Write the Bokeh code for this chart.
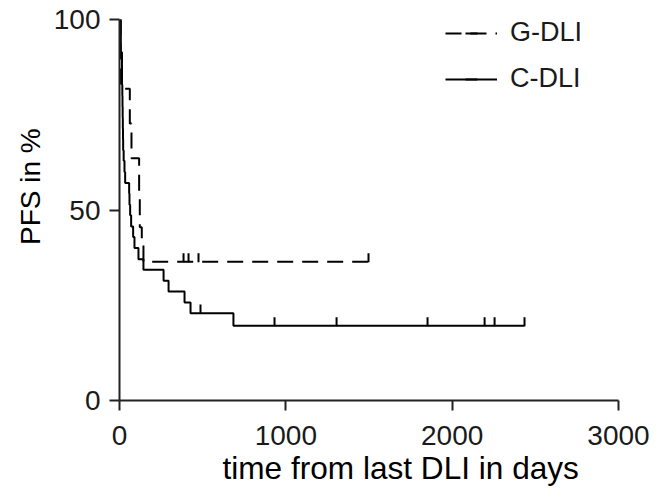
import math
from bokeh.plotting import figure
from bokeh.models import Range1d, FixedTicker, Legend, LegendItem, ColumnDataSource, Title
from bokeh.embed import file_html
from bokeh.resources import INLINE

# ---- data (Kaplan-Meier step curves) ----
# C-DLI (solid)
c_time = [0, 8, 15, 17, 18, 19, 20, 21, 22, 25, 30, 34, 58, 60, 64, 70, 82, 90, 114, 144,
          265, 295, 391, 427, 685, 2435]
c_surv = [100, 91.4, 82.9, 80.0, 77.1, 74.3, 71.4, 68.6, 65.7, 62.9, 60.0, 57.1, 54.3, 51.4,
          48.6, 45.7, 42.9, 40.0, 37.1, 34.3, 31.4, 28.6, 25.7, 22.9, 19.6, 19.6]
c_cens_time = [487, 932, 1305, 1852, 2195, 2255, 2435]
c_cens_surv = [22.9, 19.6, 19.6, 19.6, 19.6, 19.6, 19.6]

# G-DLI (dashed)
g_time = [0, 6, 62, 72, 118, 122, 134, 144, 1497]
g_surv = [100, 81.8, 72.7, 63.6, 54.5, 45.5, 40.9, 36.4, 36.4]
g_cens_time = [385, 415, 475, 1497]
g_cens_surv = [36.4, 36.4, 36.4, 36.4]

x_ticks = [0, 1000, 2000, 3000]
y_ticks = [0, 50, 100]
series_names = ["G-DLI", "C-DLI"]
x_title = "time from last DLI in days"
y_title = "PFS in %"

# ---- style ----
FONT = "Liberation Sans"
TXT = "#1a1a1a"
LW = 2
DASH = "16 9"
TICK_HALF = 1.1   # censor tick drawn upward from the curve (in % units)
Y_TITLE_PAD = "\u00a0" * 6   # shifts the vertical title upward as in the reference

p = figure(width=662, height=495, output_backend="svg", toolbar_location=None,
           x_range=Range1d(0, 3000), y_range=Range1d(0, 100),
           min_border_left=119, min_border_right=44, min_border_top=19,
           min_border_bottom=95)
p.outline_line_color = None
p.grid.visible = False
p.background_fill_color = "white"
p.border_fill_color = "white"

g_line = p.step(g_time, g_surv, mode="after", line_color="black", line_width=LW,
                line_dash=DASH)
c_line = p.step(c_time, c_surv, mode="after", line_color="black", line_width=LW)

g_src = ColumnDataSource(dict(x=g_cens_time, y=[v + TICK_HALF for v in g_cens_surv]))
c_src = ColumnDataSource(dict(x=c_cens_time, y=[v + TICK_HALF for v in c_cens_surv]))
g_tick = p.scatter("x", "y", source=g_src, marker="dash", angle=math.pi / 2, size=9,
                   line_color="black", line_width=LW)
c_tick = p.scatter("x", "y", source=c_src, marker="dash", angle=math.pi / 2, size=9,
                   line_color="black", line_width=LW)

for ax in (p.xaxis[0], p.yaxis[0]):
    ax.axis_line_width = LW
    ax.axis_line_color = "#222222"
    ax.major_tick_line_width = LW
    ax.major_tick_line_color = "#222222"
    ax.major_tick_out = 10
    ax.major_tick_in = 0
    ax.minor_tick_line_color = None
    ax.major_label_text_font = FONT
    ax.major_label_text_font_size = "28px"
    ax.major_label_text_color = TXT

p.xaxis[0].ticker = FixedTicker(ticks=x_ticks)
p.yaxis[0].ticker = FixedTicker(ticks=y_ticks)
p.xaxis[0].major_label_standoff = 15
p.yaxis[0].major_label_standoff = 9

# axis titles (placed off-centre as in the reference)
xt = Title(text=x_title, align="left", offset=103, standoff=0,
           text_font=FONT, text_font_size="31.6px", text_font_style="normal",
           text_color="black")
yt = Title(text=Y_TITLE_PAD + y_title, align="center", standoff=10,
           text_font=FONT, text_font_size="28px", text_font_style="normal",
           text_color="black")
p.add_layout(xt, "below")
p.add_layout(yt, "left")

legend = Legend(items=[LegendItem(label=series_names[0], renderers=[g_line, g_tick]),
                       LegendItem(label=series_names[1], renderers=[c_line, c_tick])],
                location=(326, 306))
legend.label_text_font = FONT
legend.label_text_font_size = "27px"
legend.label_text_color = TXT
legend.glyph_width = 52
legend.glyph_height = 30
legend.label_height = 30
legend.label_width = 100
legend.label_standoff = 13
legend.spacing = 15
legend.padding = 0
legend.margin = 0
legend.border_line_color = None
legend.background_fill_alpha = 0
p.add_layout(legend)

open("out.html", "w").write(file_html(p, INLINE))
